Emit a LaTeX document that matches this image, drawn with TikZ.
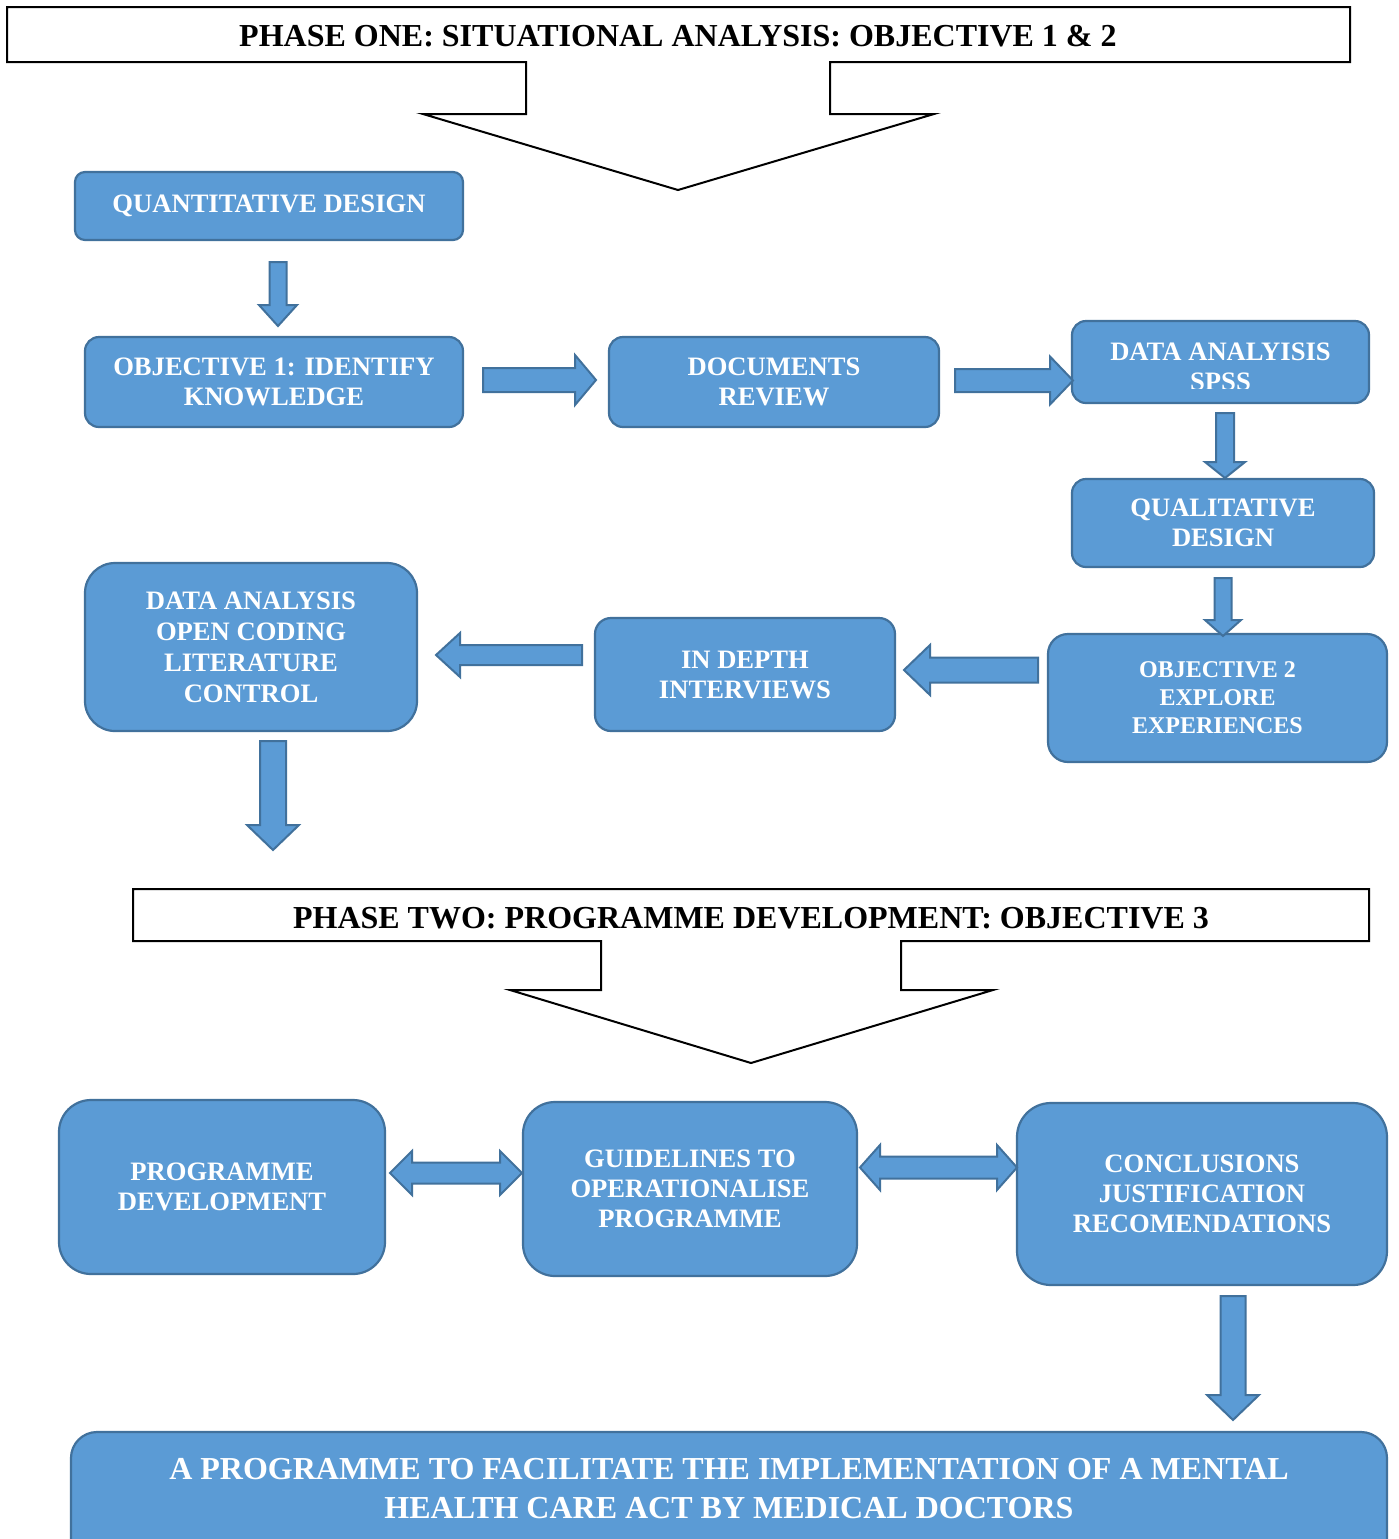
\documentclass[tikz,border=0pt]{standalone}
\usepackage{fontspec}
\setmainfont{Liberation Serif}
\definecolor{boxfill}{HTML}{5B9BD5}
\definecolor{boxline}{HTML}{41719C}
\tikzset{
 box/.style={draw=boxline, fill=boxfill, line width=1.1pt, text=white,
   font=\bfseries\fontsize{13.3}{15}\selectfont, align=center, inner sep=0pt},
 barrow/.style={draw=boxline, fill=boxfill, line width=1pt, line join=miter},
 callout/.style={draw=black, line width=1pt, fill=white, line join=miter},
 headtext/.style={font=\bfseries\fontsize{16}{19}\selectfont, inner sep=0pt}
}
\newcommand\arrD[6]{\draw[barrow] ({#1-#5},#2) -- ({#1+#5},#2) -- ({#1+#5},#3) -- ({#1+#6},#3) -- (#1,#4) -- ({#1-#6},#3) -- ({#1-#5},#3) -- cycle;}
\newcommand\arrH[6]{\draw[barrow] (#2,{#1-#5}) -- (#3,{#1-#5}) -- (#3,{#1-#6}) -- (#4,#1) -- (#3,{#1+#6}) -- (#3,{#1+#5}) -- (#2,{#1+#5}) -- cycle;}
\newcommand\arrB[7]{\draw[barrow] (#2,#1) -- (#3,{#1-#7}) -- (#3,{#1-#6}) -- (#4,{#1-#6}) -- (#4,{#1-#7}) -- (#5,#1) -- (#4,{#1+#7}) -- (#4,{#1+#6}) -- (#3,{#1+#6}) -- (#3,{#1+#7}) -- cycle;}
\begin{document}
\begin{tikzpicture}[x=0.5pt,y=-0.5pt]
\useasboundingbox (0,0) rectangle (1399,1539);
\fill[white] (0,0) rectangle (1399,1539);
\clip (0,0) rectangle (1399,1539);
% Phase one callout
\draw[callout] (7,7) -- (1350,7) -- (1350,62) -- (830,62) -- (830,114) -- (934,114) -- (678,190) -- (423,114) -- (526,114) -- (526,62) -- (7,62) -- cycle;
\node[headtext] (h1) at (678,36) {PHASE ONE: SITUATIONAL ANALYSIS: OBJECTIVE 1 \& 2};
% Boxes phase one
\node[box, minimum width=194pt, minimum height=34pt, rounded corners=5pt] (qd) at (269,206) {QUANTITATIVE DESIGN};
\node[box, minimum width=189pt, minimum height=45pt, rounded corners=7pt] (ob1) at (274,382) {OBJECTIVE 1: IDENTIFY\\KNOWLEDGE};
\node[box, minimum width=165pt, minimum height=45pt, rounded corners=7pt] (doc) at (774,382) {DOCUMENTS\\REVIEW};
\node[box, minimum width=148.5pt, minimum height=41pt, rounded corners=7pt] (spss) at (1220.5,362) {};
\begin{scope}
\clip (1072,321) rectangle (1369,388);
\node[box, draw=none, fill=none] (spssT) at (1220.5,367) {DATA ANALYISIS\\SPSS};
\end{scope}
\node[box, minimum width=151pt, minimum height=44pt, rounded corners=7pt] (qual) at (1223,523) {QUALITATIVE\\DESIGN};
\node[box, minimum width=169.5pt, minimum height=64pt, rounded corners=10pt, font=\bfseries\fontsize{12}{14}\selectfont] (ob2) at (1217.5,698) {OBJECTIVE 2\\EXPLORE\\EXPERIENCES};
\node[box, minimum width=150pt, minimum height=56.5pt, rounded corners=8pt] (ind) at (745,674.5) {IN DEPTH\\INTERVIEWS};
\node[box, minimum width=166pt, minimum height=84pt, rounded corners=15pt, font=\bfseries\fontsize{13.3}{15.5}\selectfont] (dao) at (251,647) {DATA ANALYSIS\\OPEN CODING\\LITERATURE\\CONTROL};
% Arrows phase one
\arrD{278}{262}{305}{326}{8.5}{19}
\arrH{380}{483}{575}{596}{12}{25}
\arrH{380.5}{955}{1050}{1073}{11.5}{24}
\arrD{1225}{413}{462}{478}{9}{20}
\arrD{1223}{578}{620}{636}{8.5}{18}
\arrH{670}{1038}{930}{904}{12.5}{25}
\arrH{655}{582}{460}{436}{10}{22}
\arrD{273}{741}{825}{850}{13}{26}
% Phase two callout
\draw[callout] (133,889) -- (1369,889) -- (1369,941) -- (901,941) -- (901,990) -- (993,990) -- (751,1063) -- (510,990) -- (601,990) -- (601,941) -- (133,941) -- cycle;
\node[headtext] (h2) at (751,918) {PHASE TWO: PROGRAMME DEVELOPMENT: OBJECTIVE 3};
% Boxes phase two
\node[box, minimum width=163pt, minimum height=87pt, rounded corners=16pt] (pd) at (222,1187) {PROGRAMME\\DEVELOPMENT};
\node[box, minimum width=167pt, minimum height=87pt, rounded corners=16pt] (gl) at (690,1189) {GUIDELINES TO\\OPERATIONALISE\\PROGRAMME};
\node[box, minimum width=185pt, minimum height=91pt, rounded corners=17pt] (con) at (1202,1194) {CONCLUSIONS\\JUSTIFICATION\\RECOMENDATIONS};
\arrB{1173}{390}{412}{500}{522}{10.5}{22}
\arrB{1167.5}{860}{880}{997}{1017}{11}{22.5}
\arrD{1233}{1296}{1395}{1420}{12.5}{26}
% Final box
\node[box, minimum width=658pt, minimum height=90pt, rounded corners=13pt] (fin) at (729,1522) {};
\node[box, draw=none, fill=none, font=\bfseries\fontsize{16}{19.5}\selectfont] (finT) at (729,1488.5) {A PROGRAMME TO FACILITATE THE IMPLEMENTATION OF A MENTAL\\HEALTH CARE ACT BY MEDICAL DOCTORS};
\end{tikzpicture}
\end{document}
